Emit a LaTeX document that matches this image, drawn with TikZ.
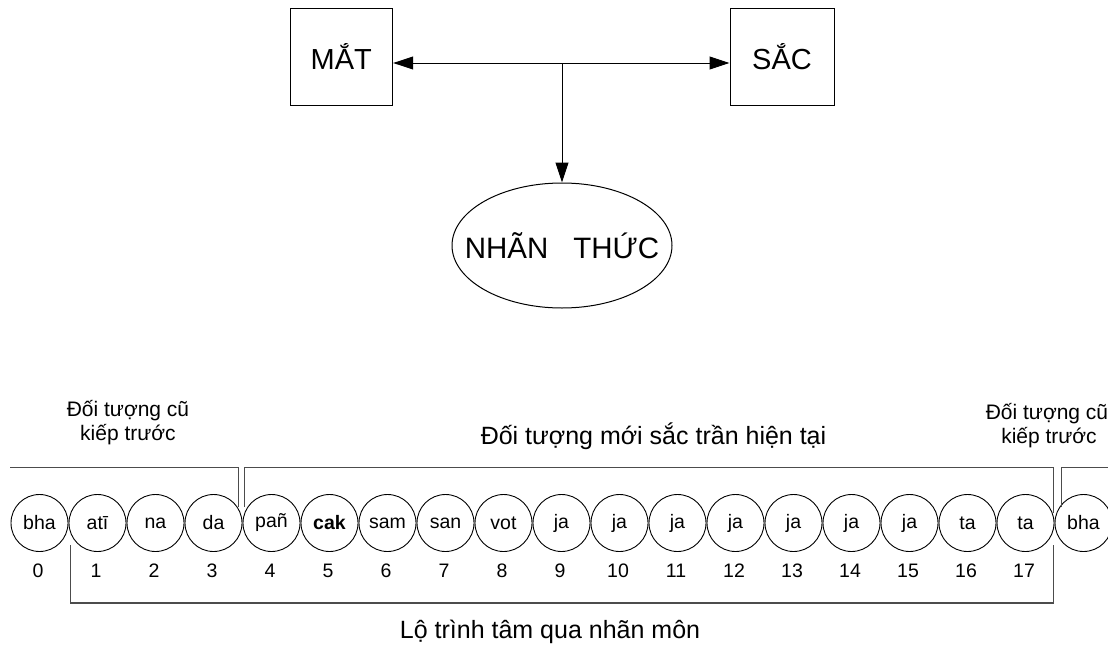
\documentclass[tikz,border=0pt]{standalone}
\usepackage{fontspec}
\setmainfont{Liberation Sans}
\usetikzlibrary{shapes.geometric,arrows.meta}
\tikzset{
  bigbox/.style={draw=black, line width=1pt, minimum width=102.7pt, minimum height=97.4pt, inner sep=0pt, font=\fontsize{29}{34}\selectfont},
  bigell/.style={draw=black, line width=1pt, ellipse, minimum width=220pt, minimum height=125pt, inner sep=0pt},
  bigtext/.style={inner sep=0pt, font=\fontsize{29.5}{34}\selectfont},
  conn/.style={draw=black, line width=1pt, -{Triangle[length=20pt,width=13pt]}},
  cell/.style={circle, draw=black, line width=0.9pt, minimum size=57pt, inner sep=0pt, font=\fontsize{19.5}{23}\selectfont},
  num/.style={inner sep=0pt, font=\fontsize{19.5}{23}\selectfont},
  bracket/.style={draw=black!70, line width=1.3pt},
  small/.style={inner sep=0pt, anchor=base, font=\fontsize{21}{25}\selectfont},
  mid/.style={inner sep=0pt, anchor=base, font=\fontsize{25}{30}\selectfont}
}
\begin{document}
\begin{tikzpicture}[x=1pt,y=-1pt]
\useasboundingbox[fill=white] (0,0) rectangle (1108,645);
% top diagram
\node[bigbox] (mat) at (341.35,57) {MẮT};
\node[bigbox, minimum width=104pt] (sac) at (782,57) {SẮC};
\node[bigell] (nt) at (562,245.5) {};
\node[bigtext] (ntt) at (nt.center) {NHÃN\hspace{25pt}THỨC};
\coordinate (j) at (562,63);
\draw[conn] (j) -- (j -| mat.east);
\draw[conn] (j) -- (j -| sac.west);
\draw[conn] (j) -- (nt.north);
% circles
\foreach \i/\t in {0/bha,1/atī,2/na,3/da,4/pañ,5/{\textbf{cak}},6/sam,7/san,8/vot,9/ja,10/ja,11/ja,12/ja,13/ja,14/ja,15/ja,16/ta,17/ta,18/bha}{
  \node[cell] (c\i) at ({39.5+58*\i},523) {\t};
}
\foreach \i in {0,...,17}{
  \node[num] (n\i) at ({38+58*\i},571) {\i};
}
% brackets
\coordinate (a1) at (10,467.7);
\coordinate (a2) at (238.3,467.7);
\coordinate (a3) at (238.3,507);
\draw[bracket] (a1) -- (a2) -- (a3);
\coordinate (b1) at (244.3,507);
\coordinate (b2) at (244.3,467.7);
\coordinate (b3) at (1053.3,467.7);
\coordinate (b4) at (1053.3,513);
\draw[bracket] (b1) -- (b2) -- (b3) -- (b4);
\coordinate (d1) at (1061.3,507);
\coordinate (d2) at (1061.3,467.7);
\coordinate (d3) at (1108,467.7);
\draw[bracket] (d1) -- (d2) -- (d3);
\coordinate (e1) at (70.7,545);
\coordinate (e2) at (70.7,603);
\coordinate (e3) at (1053.3,603);
\coordinate (e4) at (1053.3,545);
\draw[bracket] (e1) -- (e2) -- (e3) -- (e4);
% labels
\node[small] (l1) at (128,416) {Đối tượng cũ};
\node[small] (l2) at (128,440) {kiếp trước};
\node[small] (r1) at (1047,419) {Đối tượng cũ};
\node[small] (r2) at (1049,443) {kiếp trước};
\node[mid] (m1) at (653.5,444) {Đối tượng mới sắc trần hiện tại};
\node[mid] (m2) at (550,638) {Lộ trình tâm qua nhãn môn};
\end{tikzpicture}
\end{document}
